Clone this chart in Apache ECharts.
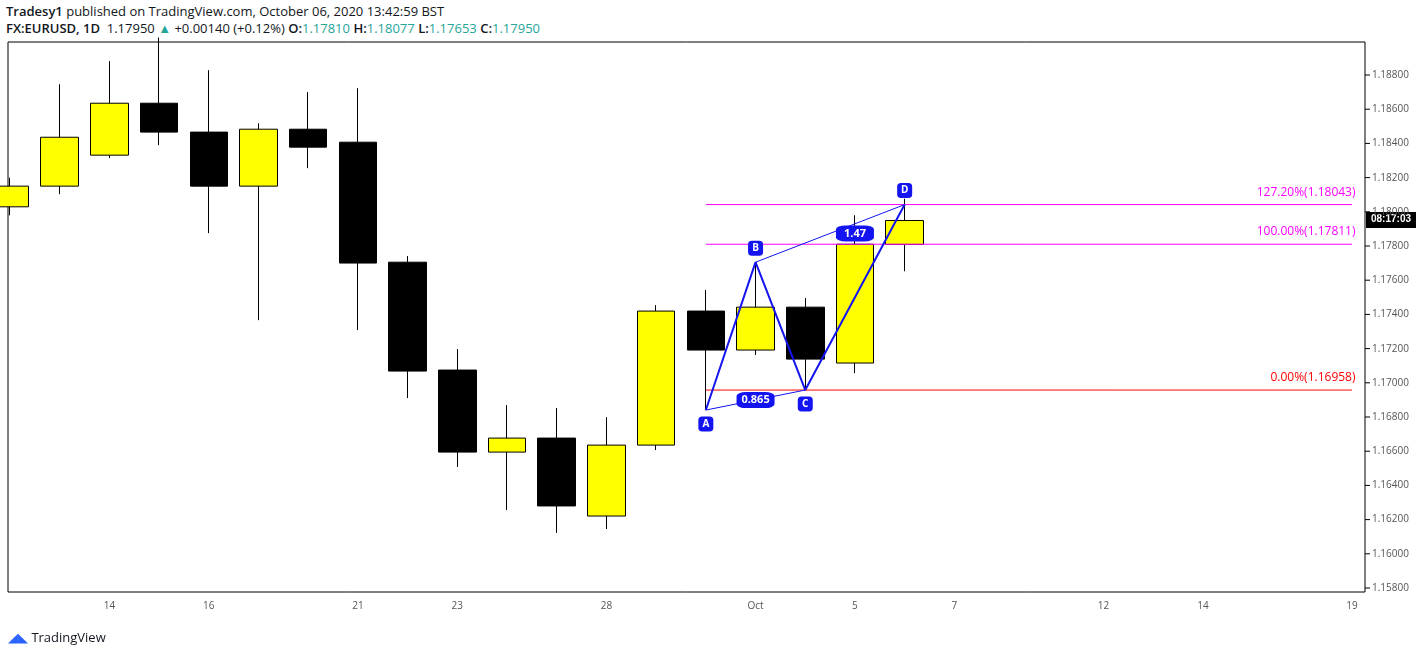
<!DOCTYPE html>
<html>
<head>
<meta charset="utf-8">
<script src="https://cdn.jsdelivr.net/npm/echarts@6/dist/echarts.min.js"></script>
<style>
  body { margin: 0; background: #fff; font-family: "Open Sans", sans-serif; }
  #head { position: absolute; left: 6px; top: 3px; font-size: 13px; line-height: 17px; color: #131722; }
  #head b { font-weight: 600; }
  .g { color: #26a69a; }
  #chart { width: 1426px; height: 655px; }
  #logo { position: absolute; left: 8px; top: 628px; font-size: 13px; color: #131722; }
</style>
</head>
<body>
<div id="head">
  <div><b>Tradesy1</b> published on TradingView.com, October 06, 2020 13:42:59 BST</div>
  <div><b>FX:EURUSD, 1D</b>&nbsp; 1.17950 <span class="g">▲</span> +0.00140 (+0.12%) <b>O:</b><span class="g">1.17810</span> <b>H:</b><span class="g">1.18077</span> <b>L:</b><span class="g">1.17653</span> <b>C:</b><span class="g">1.17950</span></div>
</div>
<div id="chart"></div>
<div id="logo"><span style="color:#2962ff">◢◣</span> TradingView</div>
<script>
// trading days incl. empty future days
var days = ['Sep10','Sep11','Sep14','Sep15','Sep16','Sep17','Sep18','Sep21','Sep22','Sep23','Sep24','Sep25',
  'Sep28','Sep29','Sep30','Oct1','Oct2','Oct5','Oct6','Oct7','Oct8','Oct9','Oct12','Oct13','Oct14','Oct15','Oct16','Oct19'];
var dayLabels = {Sep14:'14',Sep16:'16',Sep21:'21',Sep23:'23',Sep28:'28',Oct1:'Oct',Oct5:'5',Oct7:'7',Oct12:'12',Oct14:'14',Oct19:'19'};

// open, close, low, high
var ohlc = [
  [1.18030,1.18151,1.17980,1.18200],
  [1.18151,1.18437,1.18104,1.18747],
  [1.18332,1.18636,1.18315,1.18882],
  [1.18636,1.18467,1.18391,1.19020],
  [1.18467,1.18151,1.17876,1.18829],
  [1.18151,1.18484,1.17367,1.18519],
  [1.18484,1.18379,1.18256,1.18701],
  [1.18408,1.17701,1.17309,1.18724],
  [1.17706,1.17069,1.16911,1.17742],
  [1.17075,1.16595,1.16508,1.17198],
  [1.16595,1.16677,1.16256,1.16870],
  [1.16677,1.16280,1.16122,1.16853],
  [1.16221,1.16636,1.16145,1.16800],
  [1.16636,1.17420,1.16607,1.17455],
  [1.17420,1.17192,1.16841,1.17543],
  [1.17192,1.17443,1.17163,1.17706],
  [1.17443,1.17139,1.16958,1.17496],
  [1.17116,1.17811,1.17057,1.17981],
  [1.17810,1.17950,1.17653,1.18077]
];

var abcdDays = ['Sep30','Oct1','Oct2','Oct6'];
var abcdVals = [1.16841, 1.17706, 1.16958, 1.18043];
var abcdNames = ['A','B','C','D'];
var ratioLabels = ['0.865','1.47'];
var fibLevels = [1.18043, 1.17811, 1.16958];
var fibNames = ['127.20%(1.18043)','100.00%(1.17811)','0.00%(1.16958)'];
var fibColors = ['#ff00ff','#ff00ff','#ff0000'];

var blue = '#1414f0';
var series = [{
  type: 'candlestick', data: ohlc, barWidth: 38,
  itemStyle: { color: '#ffff00', color0: '#000000', borderColor: '#000000', borderColor0: '#000000', borderWidth: 1 }
}];

fibLevels.forEach(function (v, i) {
  series.push({
    type: 'line', symbol: 'none', silent: true,
    data: [['Sep30', v], ['Oct19', v]],
    lineStyle: { color: fibColors[i], width: 1 },
    markPoint: {
      symbol: 'rect', symbolSize: 1, itemStyle: { color: 'transparent' },
      data: [{ coord: ['Oct19', v], label: { show: true, position: 'insideBottomRight', offset: [8, -2], color: fibColors[i], fontSize: 12, formatter: fibNames[i] } }]
    }
  });
});

var pts = abcdDays.map(function (d, i) { return [d, abcdVals[i]]; });
series.push({ type: 'line', symbol: 'none', data: pts, lineStyle: { color: blue, width: 2 }, z: 5 });
series.push({ type: 'line', symbol: 'none', data: [pts[0], pts[2]], lineStyle: { color: blue, width: 1 }, z: 5 });
series.push({ type: 'line', symbol: 'none', data: [pts[1], pts[3]], lineStyle: { color: blue, width: 1 }, z: 5 });

[[0, 2, 14], [1, 3, -14]].forEach(function (g) {
  series.push({
    type: 'scatter', z: 6, symbol: 'roundRect', symbolSize: [15, 15], symbolOffset: [0, g[2]],
    data: [pts[g[0]], pts[g[1]]],
    label: { show: true, position: 'inside', color: '#fff', fontSize: 10, fontWeight: 'bold',
      formatter: function (p) { return abcdNames[g[p.dataIndex]]; } },
    itemStyle: { color: blue, opacity: 1 }
  });
});
var idx = function (d) { return days.indexOf(d); };
series.push({
  type: 'scatter', z: 6, symbol: 'roundRect', symbolSize: [38, 16],
  data: [
    [(idx('Sep30') + idx('Oct2')) / 2, (abcdVals[0] + abcdVals[2]) / 2],
    [(idx('Oct1') + idx('Oct6')) / 2, (abcdVals[1] + abcdVals[3]) / 2]
  ],
  label: { show: true, position: 'inside', color: '#fff', fontSize: 11, fontWeight: 'bold',
    formatter: function (p) { return ratioLabels[p.dataIndex]; } },
  itemStyle: { color: blue, opacity: 1 }
});

var chart = echarts.init(document.getElementById('chart'));
chart.setOption({
  animation: false,
  textStyle: { fontFamily: 'Open Sans, sans-serif' },
  grid: { left: 10, right: 74, top: 41, bottom: 67 },
  xAxis: {
    type: 'category', data: days, boundaryGap: false,
    axisLine: { show: false }, axisTick: { show: false },
    axisLabel: { interval: 0, color: '#555', fontSize: 10, margin: 13, formatter: function (v) { return dayLabels[v] || ''; } },
    splitLine: { show: false }
  },
  yAxis: {
    type: 'value', position: 'right', min: 1.158, max: 1.190, interval: 0.002, scale: true, offset: 8,
    axisLine: { show: false }, axisTick: { show: false }, splitLine: { show: false },
    axisLabel: { color: '#555', fontSize: 10, margin: 12, formatter: function (v) { return v > 1.1895 ? '' : v.toFixed(5); } }
  },
  graphic: [
    { type: 'rect', shape: { x: 8, y: 42, width: 1357, height: 550 }, style: { fill: 'none', stroke: '#000', lineWidth: 1 }, silent: true, z: -1 },
    { type: 'group', children: (function () {
      var a = [];
      for (var i = 0; i <= 15; i++) {
        var y = 588 - i * 34.2;
        a.push({ type: 'line', shape: { x1: 1365, y1: y, x2: 1370, y2: y }, style: { stroke: '#000' } });
      }
      return a;
    })() },
    { type: 'rect', shape: { x: 1366, y: 212, width: 50, height: 16 }, style: { fill: '#000' } },
    { type: 'text', x: 1371, y: 214, style: { text: '08:17:03', fill: '#fff', fontSize: 10, fontWeight: 'bold' } }
  ],
  series: series
});
</script>
</body>
</html>
